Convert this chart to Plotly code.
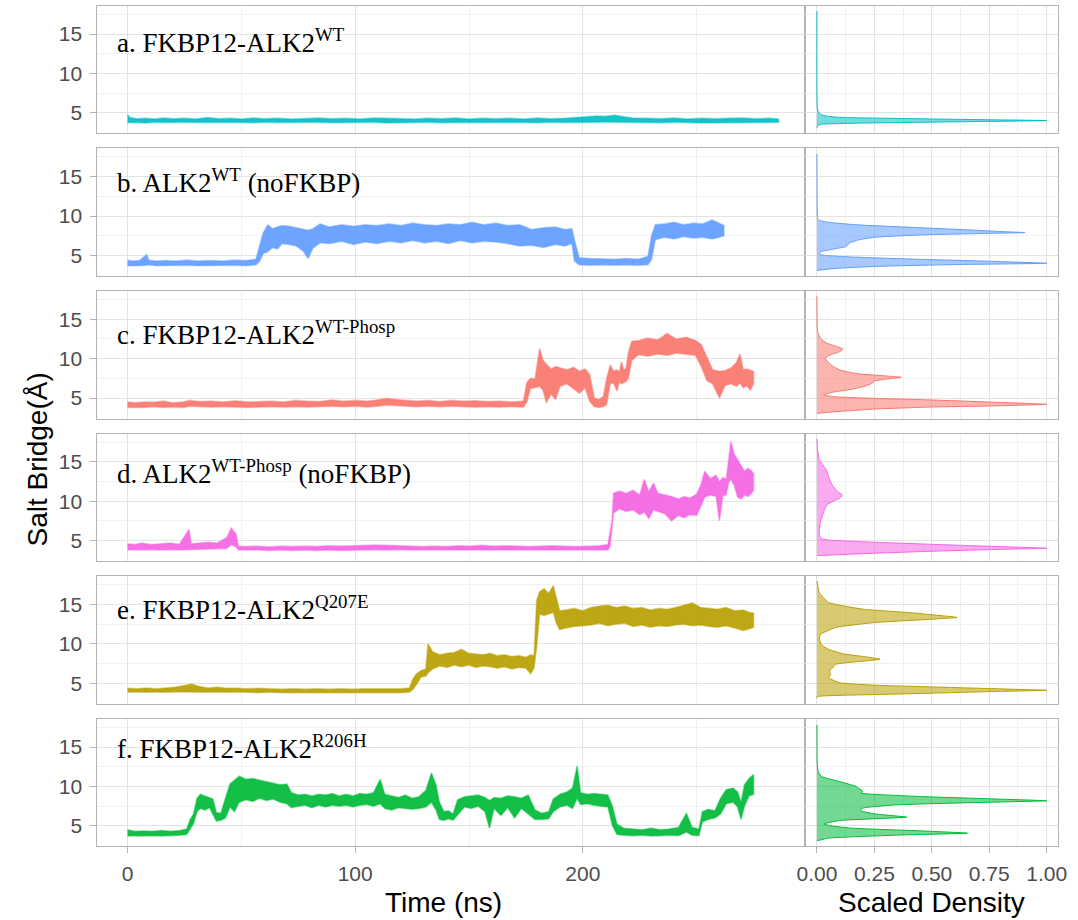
import plotly.graph_objects as go

# ---------------- data ----------------
# Time series: sampled times (ns) with lower / upper envelope of the noisy trace (Å)
t_a = [0, 1, 4, 8, 12, 16, 20, 25, 30, 35,
       40, 45, 50, 55, 60, 66, 72, 78, 84, 90,
       96, 102, 108, 114, 120, 126, 132, 138, 144, 150,
       156, 162, 168, 174, 180, 186, 192, 198, 202, 206,
       210, 214, 218, 222, 228, 234, 240, 246, 252, 258,
       264, 270, 276, 282, 286]
lo_a = [3.75, 3.8, 3.78, 3.72, 3.8, 3.76, 3.74, 3.8, 3.78, 3.72,
        3.8, 3.76, 3.78, 3.74, 3.8, 3.76, 3.72, 3.78, 3.8, 3.74,
        3.78, 3.76, 3.8, 3.72, 3.78, 3.76, 3.8, 3.74, 3.78, 3.76,
        3.72, 3.8, 3.76, 3.78, 3.74, 3.8, 3.76, 3.72, 3.78, 3.8,
        3.82, 3.85, 3.8, 3.76, 3.78, 3.74, 3.8, 3.76, 3.72, 3.78,
        3.8, 3.74, 3.76, 3.78, 3.8]
hi_a = [4.8, 4.4, 4.25, 4.3, 4.2, 4.35, 4.25, 4.3, 4.2, 4.4,
        4.25, 4.3, 4.2, 4.35, 4.25, 4.3, 4.2, 4.28, 4.35, 4.25,
        4.3, 4.2, 4.35, 4.3, 4.25, 4.2, 4.3, 4.25, 4.35, 4.2,
        4.3, 4.25, 4.3, 4.2, 4.35, 4.25, 4.3, 4.4, 4.5, 4.6,
        4.55, 4.7, 4.5, 4.35, 4.3, 4.25, 4.35, 4.2, 4.3, 4.25,
        4.3, 4.35, 4.25, 4.3, 4.2]

t_b = [0, 2.1, 5.2, 8.4, 9.4, 12.5, 16.7, 20.9, 26.1, 31.3,
       36.5, 41.8, 47, 52.2, 56.4, 57.9, 59.5, 61.6, 63.7, 65.8,
       67.9, 71, 74.1, 77.3, 79.3, 81.4, 84.6, 88.7, 94, 99.2,
       104.4, 109.6, 114.8, 120.1, 125.3, 130.5, 135.7, 140.9, 146.2, 151.4,
       156.6, 161.8, 167, 172.3, 177.5, 182.7, 187.9, 192.1, 195.2, 196.3,
       198.4, 203.6, 208.8, 214, 219.2, 224.5, 228.6, 230.2, 231.8, 235.9,
       240.1, 244.3, 248.5, 252.6, 256.8, 260, 262]
lo_b = [3.7, 3.75, 3.7, 3.75, 3.8, 3.7, 3.75, 3.7, 3.75, 3.7,
        3.75, 3.72, 3.75, 3.7, 3.8, 4.2, 5.2, 5.5, 6.0, 5.8,
        6.5, 6.4, 6.2, 5.5, 4.6, 5.9, 6.6, 6.5, 6.8, 6.4,
        6.7, 6.5, 6.8, 6.6, 6.9, 6.6, 6.8, 6.5, 6.9, 6.6,
        6.8, 6.7, 6.5, 6.2, 6.3, 6.0, 6.4, 6.2, 6.5, 4.3,
        3.8, 3.75, 3.8, 3.75, 3.8, 3.75, 3.8, 4.5, 7.0, 7.3,
        7.1, 7.4, 7.2, 7.3, 7.1, 7.3, 7.5]
hi_b = [4.4, 4.3, 4.35, 5.1, 4.4, 4.3, 4.35, 4.3, 4.4, 4.3,
        4.35, 4.3, 4.4, 4.35, 4.5, 6.0, 7.8, 8.9, 8.4, 8.6,
        8.8, 8.7, 8.5, 8.3, 8.2, 8.4, 9.0, 8.6, 8.9, 8.7,
        8.9, 8.8, 9.0, 8.8, 9.1, 8.9, 8.8, 9.0, 8.9, 9.2,
        8.9, 9.1, 8.8, 8.9, 8.3, 8.5, 8.6, 8.3, 8.4, 7.0,
        4.7, 4.6, 4.55, 4.5, 4.6, 4.5, 4.9, 7.5, 8.9, 9.0,
        9.2, 8.9, 9.1, 9.0, 9.5, 9.1, 8.8]

t_c = [0, 3.2, 7.4, 11.6, 15.8, 20, 24.2, 27.4, 31.6, 36.9,
       42.2, 47.4, 52.7, 58, 63.2, 68.5, 73.8, 79, 84.3, 89.6,
       94.9, 100.1, 105.4, 110.7, 113.8, 117, 121.2, 126.5, 131.8, 137,
       142.3, 147.6, 152.8, 158.1, 163.4, 168.6, 173.9, 175.4, 177, 179,
       181, 182.5, 184, 186, 188, 190, 193, 196, 198.5, 201,
       203, 205, 207, 209, 210.5, 212, 213.5, 215, 216, 217,
       218, 219, 220, 221.5, 224.5, 228.5, 233, 237, 241, 245.5,
       249.5, 252, 254.5, 257, 260, 262.5, 265, 267.5, 269, 270.5,
       272, 273.5, 275]
lo_c = [3.8, 3.85, 3.8, 3.9, 3.8, 3.85, 3.8, 3.95, 3.9, 3.85,
        3.9, 3.85, 3.8, 3.85, 3.9, 3.85, 3.9, 3.85, 3.9, 3.95,
        3.9, 3.95, 3.85, 4.0, 4.1, 4.0, 3.95, 3.9, 3.95, 3.9,
        3.95, 3.9, 3.85, 3.9, 3.85, 3.9, 3.85, 4.5, 6.2, 6.3,
        6.5, 6.0, 4.4, 5.5, 4.8, 6.5, 6.8, 6.2, 5.6, 6.3,
        4.6, 3.9, 3.8, 3.9, 4.2, 6.8, 6.9, 5.9, 7.0, 6.8,
        7.0, 7.1, 7.5, 9.8, 10.5, 10.3, 10.6, 10.4, 10.7, 10.5,
        10.4, 9.0, 7.2, 6.8, 5.0, 6.6, 6.8, 6.5, 6.9, 6.3,
        6.6, 6.0, 6.8]
hi_c = [4.5, 4.4, 4.5, 4.45, 4.6, 4.4, 4.5, 4.7, 4.55, 4.6,
        4.5, 4.65, 4.5, 4.55, 4.6, 4.5, 4.7, 4.6, 4.55, 4.75,
        4.6, 4.7, 4.6, 4.8, 4.95, 4.85, 4.7, 4.6, 4.7, 4.55,
        4.7, 4.6, 4.65, 4.55, 4.6, 4.5, 4.6, 7.0, 7.5, 7.4,
        11.3, 9.8, 9.3, 8.7, 9.0, 8.8, 8.6, 8.9, 8.4, 8.7,
        8.0, 5.0, 4.8, 5.2, 7.5, 9.2, 8.4, 8.6, 8.3, 9.6,
        8.5, 8.8, 10.8, 12.2, 12.3, 12.6, 12.4, 13.2, 12.5, 12.7,
        12.3, 11.8, 10.3, 8.6, 8.4, 8.5, 8.8, 9.5, 10.6, 8.6,
        8.7, 8.5, 8.4]

t_d = [0, 3.1, 6.2, 10.4, 14.5, 18.7, 22.8, 27, 28, 31.1,
       35.3, 39.4, 43.6, 45.6, 47.7, 48.7, 51.9, 57, 62.2, 67.4,
       72.6, 77.8, 83, 88.1, 93.3, 98.5, 103.7, 108.9, 114.1, 119.3,
       124.4, 129.6, 134.8, 140, 145.2, 150.4, 155.6, 160.7, 165.9, 171.1,
       176.3, 181.5, 186.7, 191.8, 197, 202.2, 207.4, 211, 212, 212.8,
       213.5, 216, 219, 222, 225, 227, 229, 231, 233, 236,
       239, 242, 244.5, 247, 250, 252, 253.5, 256, 258.5, 260,
       261.5, 263, 264, 265, 266.5, 268, 269.5, 271, 272.5, 274,
       275]
lo_d = [3.8, 3.85, 3.8, 3.85, 3.8, 3.85, 3.8, 3.85, 3.9, 3.85,
        3.9, 3.95, 4.0, 4.5, 4.2, 3.8, 3.75, 3.8, 3.75, 3.8,
        3.75, 3.8, 3.75, 3.8, 3.75, 3.8, 3.8, 3.85, 3.8, 3.85,
        3.8, 3.75, 3.8, 3.75, 3.8, 3.75, 3.8, 3.75, 3.8, 3.75,
        3.8, 3.75, 3.8, 3.75, 3.8, 3.75, 3.8, 3.8, 4.3, 6.0,
        8.5, 9.0, 8.7, 8.9, 8.3, 8.6, 7.8, 8.9, 8.7, 8.4,
        7.5, 8.2, 7.9, 8.3, 8.2, 9.5, 10.5, 10.8, 10.6, 7.5,
        10.7, 10.8, 12.3, 12.8, 12.0, 10.5, 10.3, 10.8, 10.6, 11.0,
        11.4]
hi_d = [4.6, 4.5, 4.7, 4.5, 4.6, 4.7, 4.55, 6.4, 4.6, 4.7,
        4.8, 4.7, 5.4, 6.6, 5.8, 4.3, 4.25, 4.3, 4.2, 4.3,
        4.25, 4.3, 4.25, 4.35, 4.3, 4.35, 4.4, 4.45, 4.4, 4.35,
        4.3, 4.25, 4.3, 4.25, 4.35, 4.3, 4.4, 4.3, 4.35, 4.3,
        4.25, 4.3, 4.35, 4.3, 4.25, 4.3, 4.35, 4.5, 6.5, 7.5,
        11.0, 11.3, 11.0, 11.4, 10.8, 12.8, 11.2, 12.3, 11.0, 10.8,
        10.6, 10.3, 10.6, 10.4, 10.9, 12.2, 13.8, 12.9, 13.3, 12.5,
        13.0, 12.8, 15.0, 17.6, 16.0, 15.2, 14.6, 13.8, 14.2, 13.9,
        13.5]

t_e = [0, 4.2, 8.3, 12.5, 16.6, 20.8, 25, 28.1, 31.2, 35.4,
       39.5, 43.7, 47.8, 52, 57.2, 62.4, 67.6, 72.8, 78, 83.2,
       88.4, 93.6, 98.8, 104, 109.2, 114.4, 119.6, 123.8, 125.3, 126.9,
       128.9, 131, 132, 134, 137.2, 140.4, 143.5, 146.7, 149.8, 153,
       156.1, 159.3, 162.4, 165.6, 168.7, 171.9, 175, 177.1, 178.6, 179.7,
       181, 183, 185, 187, 188.4, 189.8, 192.5, 196.2, 199.9, 203.6,
       207.3, 211, 214.7, 218.4, 222.1, 225.9, 229.6, 233.3, 237, 240.7,
       244.4, 248.1, 251.8, 255.5, 259.2, 262.9, 266.7, 270.4, 273.1, 275]
lo_e = [3.85, 3.9, 3.85, 3.9, 3.85, 3.9, 3.9, 3.95, 3.9, 3.85,
        3.9, 3.85, 3.9, 3.85, 3.8, 3.85, 3.8, 3.8, 3.75, 3.8,
        3.75, 3.8, 3.75, 3.8, 3.75, 3.8, 3.8, 3.85, 4.2, 4.8,
        5.8, 5.9, 6.3, 6.8, 7.2, 7.0, 7.3, 7.1, 7.3, 7.0,
        7.2, 7.1, 6.9, 7.1, 6.8, 7.0, 6.9, 6.2, 7.0, 9.5,
        13.8, 13.6, 13.8, 14.0, 12.6, 11.8, 12.0, 12.2, 12.3, 12.4,
        12.6, 12.3, 12.5, 12.6, 12.2, 12.4, 12.1, 12.3, 12.2, 12.4,
        12.5, 12.3, 12.4, 12.2, 12.1, 12.3, 12.0, 11.7, 11.9, 12.1]
hi_e = [4.35, 4.3, 4.4, 4.3, 4.4, 4.5, 4.7, 4.9, 4.6, 4.4,
        4.5, 4.35, 4.4, 4.3, 4.35, 4.3, 4.25, 4.3, 4.25, 4.3,
        4.25, 4.3, 4.25, 4.3, 4.3, 4.35, 4.3, 4.4, 5.5, 6.2,
        6.6, 6.8, 10.0, 9.0, 8.6, 8.8, 8.9, 9.3, 8.8, 8.7,
        8.6, 8.8, 8.5, 8.6, 8.4, 8.5, 8.3, 8.6, 8.5, 15.5,
        16.6, 17.0, 16.4, 17.4, 15.6, 14.2, 14.3, 14.5, 14.2, 14.6,
        14.8, 14.9, 14.6, 14.8, 14.5, 14.6, 14.3, 14.5, 14.4, 14.6,
        14.9, 15.2, 14.6, 14.5, 14.4, 14.6, 14.2, 14.3, 14.0, 13.9]

t_f = [0, 3, 7, 11, 15, 19, 23, 26, 27.5, 29,
       30.5, 32, 34, 36, 37.5, 39, 41, 43, 45, 47,
       49, 52, 55, 58, 61, 64, 67, 70, 72, 75,
       78, 81, 84, 87, 90, 93, 96, 99, 102, 105,
       108, 111, 113, 116, 119, 122, 125, 128, 131, 133.5,
       135.5, 137, 139, 141, 143, 145, 148, 151, 154, 157,
       159, 161, 164, 167, 170, 173, 176, 179, 182, 185,
       187, 190, 193, 195.5, 197.5, 199, 202, 205, 208, 211,
       213, 215, 218, 222, 226, 230, 234, 238, 242, 245.5,
       248, 251, 252.5, 255, 258, 260.5, 263, 266, 268, 269.5,
       271, 273, 275]
lo_f = [3.7, 3.75, 3.7, 3.75, 3.7, 3.75, 3.8, 3.9, 4.6, 5.3,
        6.8, 7.2, 7.0, 7.3, 6.5, 5.6, 5.7, 6.0, 7.4, 6.8,
        8.0, 8.3, 8.1, 8.5, 8.2, 8.4, 8.0, 7.8, 7.3, 7.5,
        7.6, 7.3, 7.6, 7.4, 7.6, 7.5, 7.6, 7.4, 7.6, 7.7,
        7.5, 7.8, 7.2, 7.0, 7.3, 7.2, 7.1, 7.2, 7.4, 8.0,
        7.0, 5.8, 5.7, 5.9, 5.7, 6.3, 7.4, 7.2, 7.5, 6.8,
        4.7, 7.2, 6.3, 7.3, 6.0, 7.2, 6.5, 5.8, 5.8, 5.9,
        6.8, 7.4, 7.6, 7.2, 8.5, 7.7, 7.8, 7.6, 7.5, 7.4,
        5.0, 3.9, 3.8, 3.75, 3.8, 3.7, 3.75, 3.8, 3.75, 4.2,
        3.8, 3.75, 5.5, 5.8, 6.0, 6.5, 7.8, 8.0, 7.4, 5.8,
        7.5, 8.8, 9.0]
hi_f = [4.5, 4.3, 4.35, 4.3, 4.4, 4.3, 4.4, 4.6, 5.8, 6.5,
        8.5, 9.0, 8.8, 8.6, 8.4, 6.7, 6.6, 8.5, 10.3, 10.8,
        11.3, 10.9, 11.0, 10.8, 10.6, 10.4, 10.2, 10.3, 9.2, 8.9,
        9.0, 8.8, 9.0, 8.9, 9.1, 8.8, 9.0, 8.8, 9.1, 9.0,
        9.2, 10.9, 9.0, 8.8, 8.6, 8.9, 8.5, 8.7, 9.5, 11.7,
        10.2, 8.0, 6.8, 6.9, 6.5, 8.3, 8.7, 8.8, 8.9, 8.6,
        8.2, 8.6, 8.5, 8.8, 8.7, 8.5, 8.9, 7.0, 6.6, 6.8,
        8.4, 9.0, 9.3, 9.8, 12.6, 9.2, 9.0, 9.1, 9.0, 8.9,
        7.5, 5.2, 4.7, 4.6, 4.5, 4.7, 4.5, 4.6, 4.8, 6.6,
        4.8, 4.6, 6.8, 7.1, 6.9, 8.5, 9.6, 9.8, 9.3, 8.0,
        10.2, 11.0, 11.5]

# Scaled densities: distance (Å) and scaled density value
ya = [3.1, 3.4, 3.55, 3.7, 3.8, 3.9, 4.02, 4.12, 4.22, 4.32, 4.42, 4.6, 4.83, 5.2, 5.8, 17.9]
da = [0, 0.005, 0.02, 0.2, 0.45, 0.72, 1.0, 0.75, 0.5, 0.28, 0.1, 0.04, 0.015, 0.005, 0.001, 0]

yb = [3.1, 3.35, 3.6, 3.84, 4.0, 4.26, 4.5, 4.8, 5.06, 5.3,
      5.5, 5.8, 6.12, 6.55, 6.97, 7.3, 7.6, 7.8, 7.9, 8.0,
      8.2, 8.5, 8.88, 9.2, 9.51, 9.9, 17.9]
db = [0, 0.08, 0.25, 0.6, 1.0, 0.75, 0.45, 0.15, 0.02, 0.01,
      0.02, 0.07, 0.126, 0.14, 0.18, 0.25, 0.45, 0.75, 0.906, 0.82,
      0.69, 0.46, 0.176, 0.05, 0.005, 0.002, 0]

yc = [3.05, 3.2, 3.4, 3.6, 3.86, 3.99, 4.2, 4.49, 4.75, 4.96,
      5.15, 5.38, 5.7, 6.1, 6.5, 6.87, 7.15, 7.4, 7.63, 7.8,
      8.1, 8.56, 9.0, 9.5, 10.05, 10.5, 10.9, 11.2, 11.5, 12.0,
      12.6, 13.2, 14.0, 17.9]
dc = [0, 0.05, 0.15, 0.25, 0.5, 0.75, 1.0, 0.75, 0.5, 0.25,
      0.08, 0.03, 0.06, 0.15, 0.21, 0.24, 0.25, 0.3, 0.367, 0.3,
      0.17, 0.1, 0.07, 0.05, 0.035, 0.06, 0.1, 0.113, 0.09, 0.04,
      0.015, 0.005, 0.001, 0]

yd = [3.1, 3.4, 3.65, 3.86, 4.03, 4.28, 4.53, 4.79, 5.05, 5.25,
      5.6, 6.3, 7.4, 8.3, 9.1, 9.6, 10.0, 10.4, 10.8, 11.2,
      11.9, 12.4, 12.8, 13.2, 14.0, 15.3, 16.5, 17.9]
dd = [0, 0.25, 0.5, 0.75, 1.0, 0.75, 0.5, 0.25, 0.06, 0.02,
      0.012, 0.01, 0.015, 0.025, 0.035, 0.045, 0.07, 0.1, 0.11, 0.09,
      0.07, 0.06, 0.055, 0.05, 0.04, 0.01, 0.003, 0]

ye = [3.1, 3.3, 3.56, 3.73, 3.94, 4.1, 4.32, 4.53, 4.75, 5.05,
      5.4, 5.7, 6.14, 6.6, 7.0, 7.4, 7.75, 8.05, 8.4, 8.7,
      9.3, 9.9, 10.6, 11.2, 12.07, 12.7, 13.13, 13.35, 13.55, 13.97,
      14.4, 15.25, 16.5, 18.0]
de = [0, 0, 0.25, 0.5, 0.75, 1.0, 0.75, 0.5, 0.25, 0.1,
      0.07, 0.05, 0.06, 0.055, 0.07, 0.08, 0.18, 0.275, 0.2, 0.12,
      0.05, 0.02, 0.01, 0.015, 0.08, 0.25, 0.5, 0.61, 0.55, 0.4,
      0.2, 0.05, 0.01, 0]

yf = [3.1, 3.44, 3.82, 4.07, 4.36, 4.7, 5.0, 5.25, 5.68, 6.1,
      6.52, 6.9, 7.25, 7.67, 7.96, 8.18, 8.43, 8.72, 9.15, 9.36,
      10.0, 10.6, 11.26, 11.9, 13.0, 17.8]
df = [0, 0.05, 0.35, 0.655, 0.45, 0.15, 0.06, 0.03, 0.1, 0.39,
      0.25, 0.19, 0.2, 0.35, 0.7, 1.0, 0.75, 0.45, 0.19, 0.2,
      0.17, 0.1, 0.02, 0.005, 0.001, 0]

labels = ["a. FKBP12-ALK2<sup>WT</sup>",
          "b. ALK2<sup>WT</sup> (noFKBP)",
          "c. FKBP12-ALK2<sup>WT-Phosp</sup>",
          "d. ALK2<sup>WT-Phosp</sup> (noFKBP)",
          "e. FKBP12-ALK2<sup>Q207E</sup>",
          "f. FKBP12-ALK2<sup>R206H</sup>"]

time_ticks = [0, 100, 200]
dist_ticks = [5, 10, 15]
dens_ticks = [0, 0.25, 0.5, 0.75, 1.0]
dens_ticktext = ["0.00", "0.25", "0.50", "0.75", "1.00"]

# ---------------- styling / layout ----------------
COLORS = ["#00BFC4", "#619CFF", "#F8766D", "#F564E3", "#B79F00", "#00BA38"]
LABEL_Y = [14.1, 14.5, 13.3, 13.7, 14.5, 15.0]

W, H = 1078, 920
X_LEFT0, X_SPLIT, X_RIGHT1 = 90, 810, 1067
TOP0, PANEL_H, PITCH = 5.7, 127.6, 142.6

SANS = "Liberation Sans, Arial, sans-serif"
SERIF = "Liberation Serif, Times New Roman, serif"
BORDER = "#B3B3B3"
GRID = "#E3E3E3"
MINOR = "#F1F1F1"
TICKFONT = dict(family=SANS, size=21, color="#4D4D4D")


def rgba(hexcol, a):
    h = hexcol.lstrip("#")
    return "rgba(%d,%d,%d,%.2f)" % (int(h[0:2], 16), int(h[2:4], 16), int(h[4:6], 16), a)


series = [
    (t_a, lo_a, hi_a, ya, da),
    (t_b, lo_b, hi_b, yb, db),
    (t_c, lo_c, hi_c, yc, dc),
    (t_d, lo_d, hi_d, yd, dd),
    (t_e, lo_e, hi_e, ye, de),
    (t_f, lo_f, hi_f, yf, df),
]
for s in series:
    assert len(s[0]) == len(s[1]) == len(s[2]), len(s[0])
    assert len(s[3]) == len(s[4])

fig = go.Figure()
layout = dict(
    width=W, height=H,
    margin=dict(l=0, r=0, t=0, b=0),
    paper_bgcolor="white", plot_bgcolor="white",
    showlegend=False,
    font=dict(family=SANS),
)
annotations = []

n = len(series)
for i, (t, lo, hi, yd_, dd_) in enumerate(series):
    col = COLORS[i]
    kl, kr = 2 * i + 1, 2 * i + 2
    xl = "x" if kl == 1 else "x%d" % kl
    yl = "y" if kl == 1 else "y%d" % kl
    xr, yr = "x%d" % kr, "y%d" % kr

    # noisy trace band (soft outline imitates the fuzzy edge of the raw trace)
    fig.add_trace(go.Scatter(
        x=list(t) + list(t)[::-1], y=list(hi) + list(lo)[::-1],
        mode="lines", fill="toself", fillcolor=rgba(col, 0.92),
        line=dict(color=rgba(col, 0.45), width=1.6), xaxis=xl, yaxis=yl, hoverinfo="skip"))
    # density
    fig.add_trace(go.Scatter(
        x=dd_, y=yd_, mode="lines", fill="tozerox", fillcolor=rgba(col, 0.55),
        line=dict(color=col, width=1, shape="spline", smoothing=0.4),
        xaxis=xr, yaxis=yr, hoverinfo="skip"))

    top = TOP0 + i * PITCH
    bot = top + PANEL_H
    ydom = [1 - bot / H, 1 - top / H]
    bottom = (i == n - 1)

    common = dict(showline=True, linecolor=BORDER, linewidth=1.2, mirror=True,
                  zeroline=False, showgrid=True, gridcolor=GRID, gridwidth=1)

    layout["xaxis" if kl == 1 else "xaxis%d" % kl] = dict(
        common, domain=[X_LEFT0 / W, X_SPLIT / W], anchor=yl, range=[-13.2, 297.8],
        tickvals=time_ticks, showticklabels=bottom, ticks="outside" if bottom else "",
        ticklen=6, tickcolor=BORDER, tickfont=TICKFONT, ticklabelstandoff=2,
        minor=dict(tickvals=[50, 150, 250], showgrid=True, gridcolor=MINOR, gridwidth=0.8))
    layout["yaxis" if kl == 1 else "yaxis%d" % kl] = dict(
        common, domain=ydom, anchor=xl, range=[2.4, 18.6],
        tickvals=dist_ticks, showticklabels=True, ticks="outside",
        ticklen=6, tickcolor=BORDER, tickfont=TICKFONT, ticklabelstandoff=4,
        minor=dict(tickvals=[2.5, 7.5, 12.5, 17.5], showgrid=True, gridcolor=MINOR, gridwidth=0.8))
    layout["xaxis%d" % kr] = dict(
        common, domain=[X_SPLIT / W, X_RIGHT1 / W], anchor=yr, range=[-0.05, 1.05],
        tickvals=dens_ticks, ticktext=dens_ticktext, showticklabels=bottom,
        ticks="outside" if bottom else "", ticklen=6, tickcolor=BORDER, tickfont=TICKFONT,
        ticklabelstandoff=2,
        minor=dict(tickvals=[0.125, 0.375, 0.625, 0.875], showgrid=True, gridcolor=MINOR, gridwidth=0.8))
    layout["yaxis%d" % kr] = dict(
        common, domain=ydom, anchor=xr, range=[2.4, 18.6],
        tickvals=dist_ticks, showticklabels=False, ticks="",
        minor=dict(tickvals=[2.5, 7.5, 12.5, 17.5], showgrid=True, gridcolor=MINOR, gridwidth=0.8))

    annotations.append(dict(
        x=-5.5, y=LABEL_Y[i], xref=xl, yref=yl, xanchor="left", yanchor="middle",
        text=labels[i], showarrow=False, font=dict(family=SERIF, size=27, color="black")))

annotations += [
    dict(x=442 / W, y=1 - 902 / H, xref="paper", yref="paper",
         text="Time (ns)", showarrow=False, xanchor="center", yanchor="middle",
         font=dict(family=SANS, size=28, color="black")),
    dict(x=(X_SPLIT + X_RIGHT1) / 2 / W, y=1 - 902 / H, xref="paper", yref="paper",
         text="Scaled Density", showarrow=False, xanchor="center", yanchor="middle",
         font=dict(family=SANS, size=28, color="black")),
    dict(x=28 / W, y=1 - 460 / H, xref="paper", yref="paper",
         text="Salt Bridge(Å)", showarrow=False, textangle=-90,
         xanchor="center", yanchor="middle",
         font=dict(family=SANS, size=28, color="black")),
]
layout["annotations"] = annotations
fig.update_layout(**layout)
fig.write_html("out.html", config={"displayModeBar": False},
               post_script="document.body.style.margin='0px';")
